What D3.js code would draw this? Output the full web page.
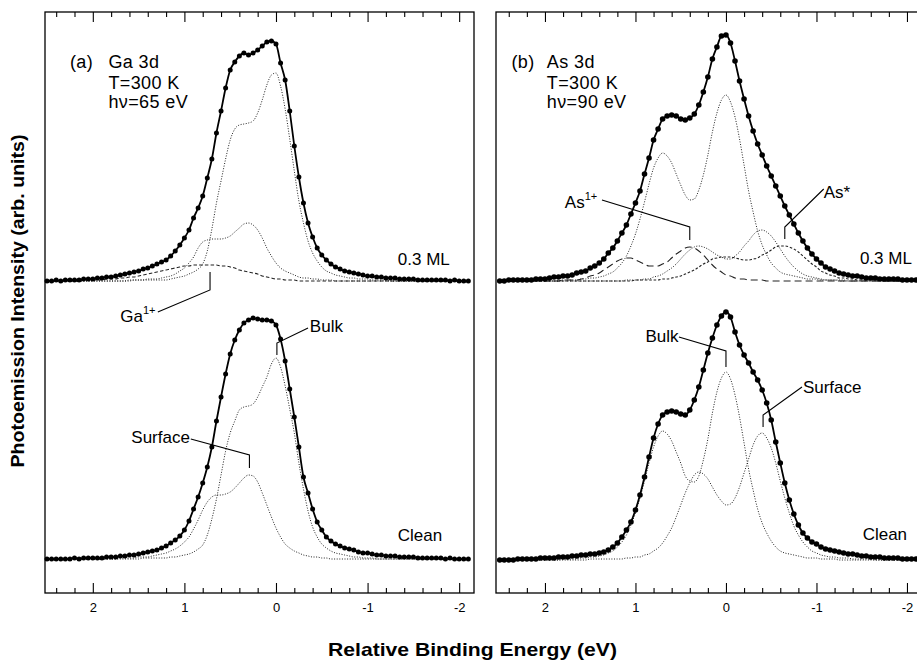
<!DOCTYPE html>
<html><head><meta charset="utf-8">
<script src="https://cdn.jsdelivr.net/npm/d3@7"></script>
<style>
body{margin:0;background:#fff;}
svg{display:block;font-family:"Liberation Sans",Arial,Helvetica,sans-serif;}
</style></head><body>
<svg id="chart" width="917" height="662"></svg>
<script>
// ---------- DATA (relative binding energy grid, eV) ----------
const energies = [2.5,2.45,2.4,2.35,2.3,2.25,2.2,2.15,2.1,2.05,
 2,1.95,1.9,1.85,1.8,1.75,1.7,1.65,1.6,1.55,
 1.5,1.45,1.4,1.35,1.3,1.25,1.2,1.15,1.1,1.05,
 1,0.95,0.9,0.85,0.8,0.75,0.7,0.65,0.6,0.55,
 0.5,0.45,0.4,0.35,0.3,0.25,0.2,0.15,0.1,0.05,
 0,-0.05,-0.1,-0.15,-0.2,-0.25,-0.3,-0.35,-0.4,-0.45,
 -0.5,-0.55,-0.6,-0.65,-0.7,-0.75,-0.8,-0.85,-0.9,-0.95,
 -1,-1.05,-1.1,-1.15,-1.2,-1.25,-1.3,-1.35,-1.4,-1.45,
 -1.5,-1.55,-1.6,-1.65,-1.7,-1.75,-1.8,-1.85,-1.9,-1.95,
 -2,-2.05,-2.1];

const majorTicks = [2,1,0,-1,-2];
const minorTicks = [2.4,2.2,1.8,1.6,1.4,1.2,0.8,0.6,0.4,0.2,-0.2,-0.4,-0.6,-0.8,-1.2,-1.4,-1.6,-1.8];

// (a) Ga 3d, 0.3 ML
const gaTopData = [0,0,1,0,1,1,1,1,2,2,
 2,3,3,4,4,5,6,7,8,9,
 10,12,13,15,17,19,21,25,30,36,
 43,51,63,73,85,103,122,148,170,193,
 211,219,225,228,226,228,231,235,239,240,
 237,218,201,170,135,104,78,58,44,33,
 26,21,17,14,12,10,9,8,7,6,
 5,5,4,4,3,3,3,2,2,2,
 2,1,1,1,1,1,1,1,0,1,
 0,0,0];
const gaTopBulk = [0,0,0,0,0,0,0,0,0,0,
 0,0,0,0,0,0,0,0,0,1,
 1,1,1,1,1,1,1,2,3,4,
 5,7,9,12,17,30,52,78,100,122,
 141,152,156,157,158,160,168,181,196,206,
 208,195,172,142,110,80,58,40,28,20,
 14,10,8,6,5,4,3,3,2,2,
 2,1,1,1,1,0,0,0,0,0,
 0,0,0,0,0,0,0,0,0,0,
 0,0,0];
const gaTopSurf = [0,0,0,0,0,0,0,0,0,0,
 0,0,0,0,0,0,0,0,1,1,
 1,1,2,2,2,3,4,5,7,10,
 13,18,24,33,39,41,42,42,42,43,
 45,49,53,57,58,56,51,43,33,25,
 18,13,10,8,6,4,3,3,2,2,
 1,1,1,0,0,0,0,0,0,0,
 0,0,0,0,0,0,0,0,0,0,
 0,0,0,0,0,0,0,0,0,0,
 0,0,0];
const gaTopIon = [0,0,0,0,0,0,0,0,1,1,
 1,1,1,2,2,2,3,3,4,4,
 5,6,7,8,9,10,11,12,13,14,
 15,15,16,16,16,16,16,16,15,15,
 14,13,11,10,9,8,7,5,4,3,
 2,2,1,1,1,0,0,0,0,0,
 0,0,0,0,0,0,0,0,0,0,
 0,0,0,0,0,0,0,0,0,0,
 0,0,0,0,0,0,0,0,0,0,
 0,0,0];
// (a) Ga 3d, clean
const gaCleanData = [0,0,0,0,0,0,1,0,1,1,
 1,1,1,2,2,2,3,3,4,4,
 5,6,7,8,9,11,13,16,19,23,
 29,38,50,62,76,92,112,138,162,185,
 205,219,229,236,239,241,240,239,239,238,
 234,220,198,170,142,112,82,66,50,37,
 29,22,18,15,13,11,10,9,7,6,
 6,5,4,4,3,3,3,2,2,2,
 2,1,1,1,1,1,1,0,1,0,
 0,0,0];
const gaCleanBulk = [0,0,0,0,0,0,0,0,0,0,
 0,0,0,0,0,0,0,0,0,0,
 0,1,1,1,1,1,1,2,2,3,
 4,5,7,10,14,24,40,60,84,108,
 126,138,149,152,153,155,162,172,182,195,
 201,192,173,150,126,96,70,48,32,22,
 15,11,8,6,5,4,3,2,2,1,
 1,1,0,0,0,0,0,0,0,0,
 0,0,0,0,0,0,0,0,0,0,
 0,0,0];
const gaCleanSurf = [0,0,0,0,0,0,0,0,0,0,
 0,0,0,0,0,0,1,1,1,1,
 2,2,2,3,4,5,6,8,10,13,
 17,22,30,39,49,57,62,64,64,65,
 67,71,76,81,84,83,77,66,54,42,
 31,22,15,11,8,6,4,3,2,2,
 1,1,0,0,0,0,0,0,0,0,
 0,0,0,0,0,0,0,0,0,0,
 0,0,0,0,0,0,0,0,0,0,
 0,0,0];

// (b) As 3d, 0.3 ML
const asTopData = [0,0,1,1,1,1,1,1,2,2,
 2,3,4,4,5,5,6,8,9,10,
 13,15,18,22,28,33,40,48,56,67,
 78,90,107,123,141,152,162,165,166,165,
 162,161,163,167,176,189,204,222,234,245,
 246,238,220,200,182,165,150,137,126,115,
 105,95,85,75,66,57,48,40,33,27,
 22,18,14,12,10,8,7,6,5,5,
 4,3,3,3,2,2,2,2,2,1,
 1,1,1];
const asTopBulk = [0,0,0,0,0,0,0,0,0,0,
 0,0,0,0,1,1,1,1,2,2,
 3,3,4,5,7,9,13,18,25,35,
 47,62,79,97,113,123,128,125,118,107,
 96,86,81,82,91,106,126,149,168,181,
 186,179,164,142,116,90,69,50,36,26,
 18,13,9,7,6,5,4,3,2,2,
 2,1,1,1,1,0,0,0,0,0,
 0,0,0,0,0,0,0,0,0,0,
 0,0,0];
const asTopSurf = [0,0,0,0,0,0,0,0,0,0,
 0,0,0,0,0,0,0,0,0,0,
 0,0,0,0,0,0,0,0,1,1,
 1,1,2,2,4,5,7,10,13,17,
 22,27,31,34,35,34,32,29,26,24,
 22,22,25,29,35,40,46,50,51,49,
 45,39,32,25,19,14,10,7,5,4,
 3,2,1,1,1,1,1,0,0,0,
 0,0,0,0,0,0,0,0,0,0,
 0,0,0];
const asTopIon = [0,0,0,0,0,0,0,0,0,0,
 0,0,0,0,1,1,1,1,2,3,
 5,6,8,11,14,17,20,22,23,23,
 21,19,17,15,15,15,17,19,23,27,
 30,33,34,33,30,26,21,16,12,9,
 6,5,3,2,2,1,1,1,1,0,
 0,0,0,0,0,0,0,0,0,0,
 0,0,0,0,0,0,0,0,0,0,
 0,0,0,0,0,0,0,0,0,0,
 0,0,0];
const asTopStar = [0,0,0,0,0,0,0,0,0,0,
 0,0,0,0,0,0,0,0,0,0,
 0,0,0,0,0,0,0,0,0,0,
 1,1,1,1,1,1,2,2,3,4,
 5,7,9,11,14,17,19,22,23,24,
 24,24,23,22,21,21,22,23,26,28,
 31,34,35,35,34,32,29,25,21,17,
 14,10,8,6,5,3,3,2,2,1,
 1,1,1,1,1,0,0,0,0,0,
 0,0,0];
// (b) As 3d, clean
const asCleanData = [0,0,0,0,1,1,1,1,1,2,
 2,2,2,3,3,3,4,4,5,5,
 6,6,7,8,10,13,17,23,30,38,
 50,65,83,103,122,136,145,148,149,148,
 146,145,150,160,173,190,207,222,235,244,
 248,243,228,215,205,197,188,180,170,157,
 140,118,97,77,60,46,35,27,22,18,
 16,13,11,10,9,8,7,6,6,5,
 4,4,3,3,3,2,2,2,2,1,
 1,1,1];
const asCleanBulk = [0,0,0,0,0,0,0,0,0,0,
 0,0,0,0,1,1,1,1,2,2,
 3,3,4,5,7,9,13,18,25,35,
 47,62,79,97,113,124,129,126,119,108,
 97,84,79,78,84,100,121,147,168,182,
 188,181,165,143,117,91,70,51,37,27,
 19,13,9,7,6,5,4,3,2,2,
 2,1,1,1,1,0,0,0,0,0,
 0,0,0,0,0,0,0,0,0,0,
 0,0,0];
const asCleanSurf = [0,0,0,0,0,0,0,0,0,0,
 0,0,0,0,0,0,0,0,0,0,
 1,1,1,1,1,1,1,1,2,2,
 3,3,5,6,9,12,17,24,32,43,
 55,67,77,85,88,86,81,73,65,59,
 55,56,62,73,87,101,115,124,127,122,
 112,97,79,62,47,34,25,18,13,9,
 7,5,4,3,3,2,2,2,1,1,
 1,1,1,0,0,0,0,0,0,0,
 0,0,0];

// vertical offsets of the two spectra (intensity units)
const offsetClean = [34, 33];
const offsetTop = [312, 312];

// ---------- DRAWING ----------
const svg = d3.select('#chart');
const FONT = '"Liberation Sans", Arial, Helvetica, sans-serif';
const Y = d3.scaleLinear().domain([0, 581]).range([593, 12]);

const styles = {
  dotted: {dash: '1,1.6', w: 1},
  ion:    {dash: '3.5,2.2', w: 1.1},
  longd:  {dash: '7,4', w: 1.1},
  short:  {dash: '2.6,1.8', w: 1.1}
};

const panels = [
  { left: 45, right: 474, domain: [2.522, -2.162], dotR: 2.5,
    spectra: [
      {offset: offsetTop[0], data: gaTopData, comps: [[gaTopIon,'ion'],[gaTopSurf,'dotted'],[gaTopBulk,'dotted']]},
      {offset: offsetClean[0], data: gaCleanData, comps: [[gaCleanSurf,'dotted'],[gaCleanBulk,'dotted']]}
    ]},
  { left: 496, right: 921, domain: [2.541, -2.155], dotR: 2.8,
    spectra: [
      {offset: offsetTop[1], data: asTopData, comps: [[asTopIon,'longd'],[asTopStar,'short'],[asTopSurf,'dotted'],[asTopBulk,'dotted']]},
      {offset: offsetClean[1], data: asCleanData, comps: [[asCleanSurf,'dotted'],[asCleanBulk,'dotted']]}
    ]}
];

const fmt = d => d < 0 ? '-' + Math.abs(d) : String(d);
const xs = [];

panels.forEach((p, pi) => {
  const x = d3.scaleLinear().domain(p.domain).range([p.left, p.right]);
  xs.push(x);
  const g = svg.append('g');

  p.spectra.forEach(s => {
    s.comps.forEach(([vals, st]) => {
      const line = d3.line().x((d,i) => x(energies[i])).y(d => Y(s.offset + d)).curve(d3.curveMonotoneX);
      g.append('path').attr('d', line(vals)).attr('fill','none')
        .attr('stroke','#222').attr('stroke-width', styles[st].w)
        .attr('stroke-dasharray', styles[st].dash);
    });
    const line = d3.line().x((d,i) => x(energies[i])).y(d => Y(s.offset + d)).curve(d3.curveMonotoneX);
    g.append('path').attr('d', line(s.data)).attr('fill','none')
      .attr('stroke','#000').attr('stroke-width', 1.8);
    g.selectAll(null).data(s.data).enter().append('circle')
      .attr('cx', (d,i) => x(energies[i])).attr('cy', d => Y(s.offset + d))
      .attr('r', p.dotR).attr('fill', '#000');
  });

  // frame
  g.append('rect').attr('x', p.left).attr('y', 12)
    .attr('width', p.right - p.left).attr('height', 581)
    .attr('fill','none').attr('stroke','#000').attr('stroke-width',1.3);

  const styleAxis = sel => {
    sel.select('.domain').remove();
    sel.selectAll('line').attr('stroke','#000').attr('stroke-width',1.1);
    sel.attr('font-family', FONT).attr('font-size', 13);
    sel.selectAll('text').attr('fill','#000');
  };
  g.append('g').attr('transform','translate(0,593)')
    .call(d3.axisBottom(x).tickValues(majorTicks).tickSize(-10).tickPadding(10).tickFormat(fmt)).call(styleAxis);
  g.append('g').attr('transform','translate(0,593)')
    .call(d3.axisBottom(x).tickValues(minorTicks).tickSize(-5).tickFormat('')).call(styleAxis);
  g.append('g').attr('transform','translate(0,12)')
    .call(d3.axisTop(x).tickValues(majorTicks).tickSize(-10).tickFormat('')).call(styleAxis);
  g.append('g').attr('transform','translate(0,12)')
    .call(d3.axisTop(x).tickValues(minorTicks).tickSize(-5).tickFormat('')).call(styleAxis);
});

// ---------- TEXT / ANNOTATIONS ----------
function text(x, y, str, size, anchor) {
  return svg.append('text').attr('x', x).attr('y', y).attr('font-family', FONT)
    .attr('font-size', size).attr('text-anchor', anchor || 'start').attr('fill','#000').text(str);
}
function info(x, y, str) {
  return text(x, y, str, 18).attr('letter-spacing', 0.4);
}
function leader(pts) {
  svg.append('path').attr('d', d3.line()(pts)).attr('fill','none')
    .attr('stroke','#000').attr('stroke-width', 1.1);
}
const [xa, xb] = xs;

// panel (a)
info(xa(2.25), Y(525), '(a)');
info(xa(1.83), Y(525), 'Ga 3d');
info(xa(1.83), Y(504), 'T=300 K');
info(xa(1.83), Y(485), 'h\u03BD=65 eV');
text(xa(-1.33), Y(328), '0.3 ML', 17);
text(xa(-1.33), Y(52), 'Clean', 17);
// Ga1+
const ga = text(xa(1.70), Y(271), 'Ga', 17);
ga.append('tspan').attr('font-size', 11).attr('dy', -8).text('1+');
leader([[xa(1.29), Y(281)], [xa(0.72), Y(303)], [xa(0.72), Y(321)]]);
// Bulk (clean)
text(xa(-0.37), Y(261), 'Bulk', 17);
leader([[xa(-0.35), Y(265)], [xa(-0.01), Y(250)], [xa(-0.01), Y(238)]]);
// Surface (clean)
text(xa(0.94), Y(150), 'Surface', 17, 'end');
leader([[xa(0.93), Y(154)], [xa(0.29), Y(138)], [xa(0.29), Y(125)]]);

// panel (b)
info(xb(2.37), Y(525), '(b)');
info(xb(1.98), Y(525), 'As 3d');
info(xb(1.98), Y(504), 'T=300 K');
info(xb(1.98), Y(485), 'h\u03BD=90 eV');
text(xb(-1.48), Y(329), '0.3 ML', 17);
text(xb(-1.51), Y(53), 'Clean', 17);
// As1+
const as1 = text(xb(1.78), Y(385), 'As', 17);
as1.append('tspan').attr('font-size', 11).attr('dy', -8).text('1+');
leader([[xb(1.37), Y(393)], [xb(0.40), Y(366)], [xb(0.40), Y(353)]]);
// As*
text(xb(-1.08), Y(395), 'As*', 17);
leader([[xb(-1.08), Y(404)], [xb(-0.65), Y(366)], [xb(-0.65), Y(354)]]);
// Bulk (clean)
text(xb(0.89), Y(251), 'Bulk', 17);
leader([[xb(0.52), Y(256)], [xb(0.0), Y(242)], [xb(0.0), Y(226)]]);
// Surface (clean)
text(xb(-0.85), Y(200), 'Surface', 17);
leader([[xb(-0.84), Y(206)], [xb(-0.41), Y(178)], [xb(-0.41), Y(166)]]);

// axis titles
svg.append('text').attr('x', 472.5).attr('y', 656).attr('text-anchor','middle')
  .attr('font-family', FONT).attr('font-size', 19).attr('font-weight','bold')
  .attr('textLength', 289).attr('lengthAdjust','spacingAndGlyphs')
  .text('Relative Binding Energy (eV)');
svg.append('text').attr('transform','translate(24,301) rotate(-90)').attr('text-anchor','middle')
  .attr('font-family', FONT).attr('font-size', 18).attr('font-weight','bold')
  .attr('textLength', 333).attr('lengthAdjust','spacingAndGlyphs')
  .text('Photoemission Intensity (arb. units)');
</script>
</body></html>
